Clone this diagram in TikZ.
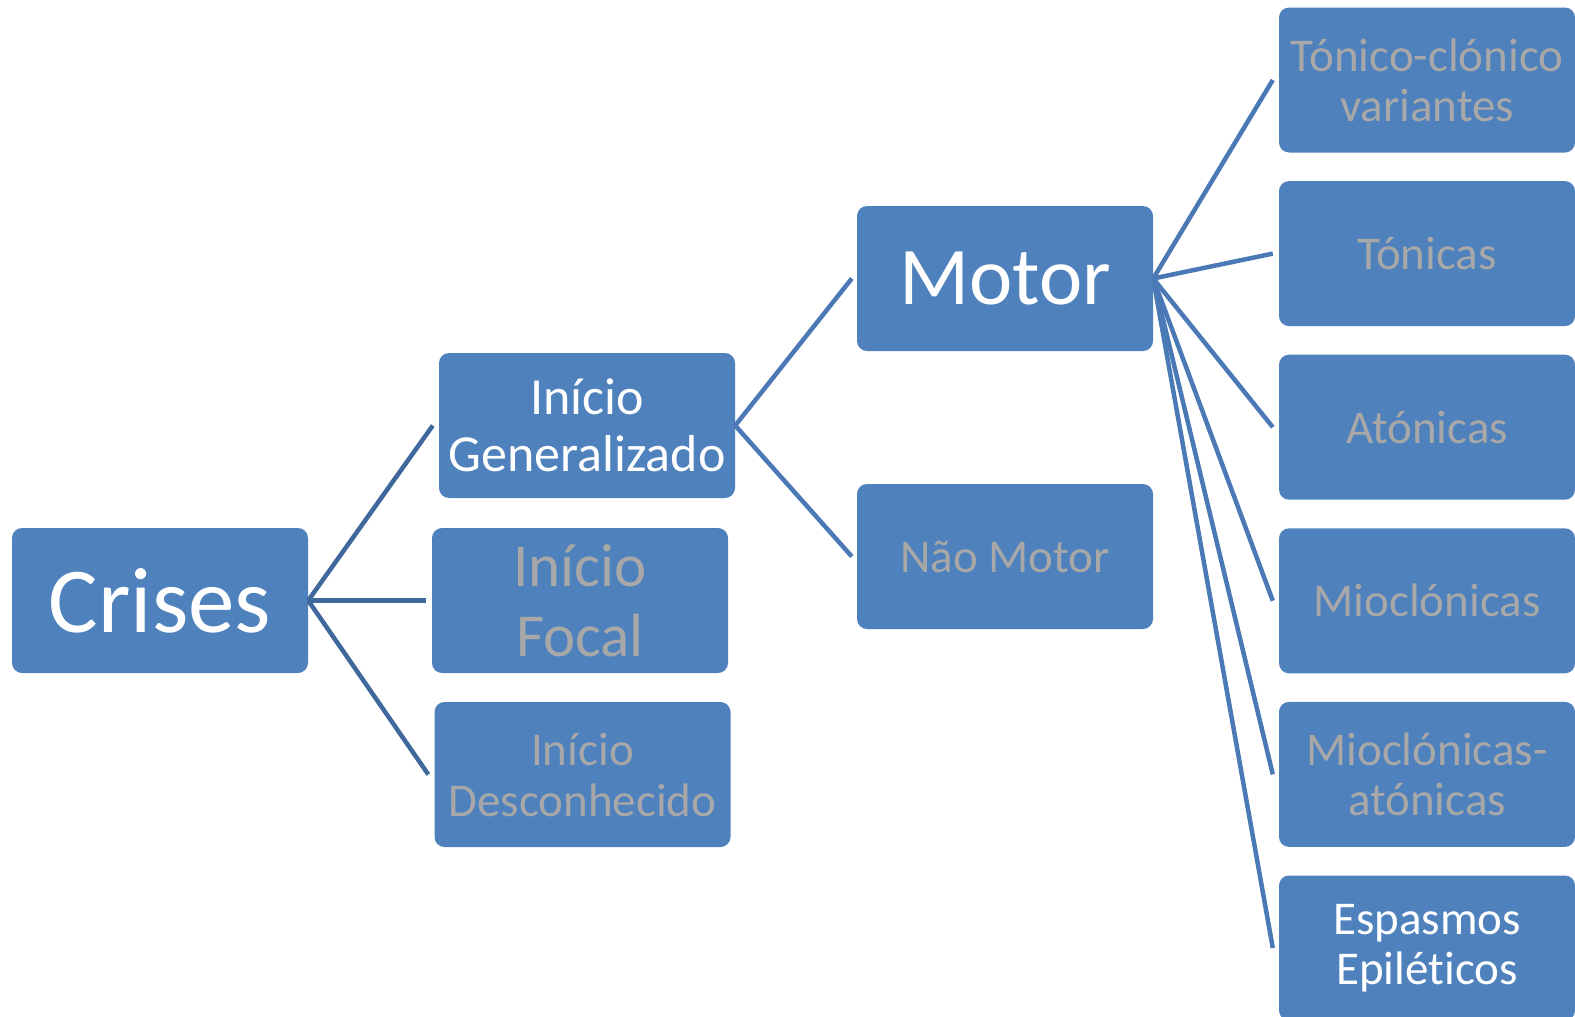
\documentclass[tikz,border=0pt]{standalone}
\usepackage{fontspec}
\setmainfont{Carlito}[Ligatures=NoCommon]

\definecolor{boxblue}{HTML}{4F81BD}
\definecolor{linkblue}{HTML}{4A79B5}
\definecolor{linkdark}{HTML}{3F689C}
\definecolor{softgrey}{HTML}{A8A8A8}

\tikzset{
    tbox/.style={rectangle, rounded corners=10pt, fill=boxblue, minimum width=296pt,
        minimum height=145pt, inner sep=2pt, align=center},
    leafbox/.style={tbox, text=softgrey, font=\fontsize{47}{50}\selectfont},
    link/.style={line width=4.5pt, draw=linkblue},
}

\begin{document}
\begin{tikzpicture}[x=1pt, y=-1pt]
        \useasboundingbox (0,0) rectangle (1575,1017);

        % first level
        \node[tbox, text=white, font=\fontsize{93}{100}\selectfont] (crises) at (160,600.5) {Crises};

        % second level
        \node[tbox, text=white, font=\fontsize{52}{57}\selectfont] (gen) at (587,425.5) {Início\\Generalizado};
        \node[tbox, text=softgrey, font=\fontsize{61}{70}\selectfont] (focal) at (580,600.5) {Início\\Focal};
        \node[tbox, text=softgrey, font=\fontsize{47}{51}\selectfont] (desc) at (582.5,774.5) {Início\\Desconhecido};

        % third level
        \node[tbox, text=white, font=\fontsize{82}{90}\selectfont] (motor) at (1005,278.5) {Motor};
        \node[leafbox] (naomotor) at (1005,556.5) {Não Motor};

        % leaves of motor
        \foreach \txt [count=\i] in {{Tónico-clónico\\variantes}, Tónicas, Atónicas, Mioclónicas, {Mioclónicas-\\atónicas}}
        {
            \node[leafbox] (leaf\i) at (1427, {80+173.6*(\i-1)}) {\txt};
        }
        \node[leafbox, text=white] (leaf6) at (1427,948) {Espasmos\\Epiléticos};

        % connectors
        \foreach \n in {gen, focal, desc}
            \draw[link, draw=linkdark] (crises.east) -- ([xshift=-6pt]\n.west);
        \foreach \n in {motor, naomotor}
            \draw[link] (gen.east) -- ([xshift=-5pt]\n.west);
        \foreach \i in {1,...,6}
            \draw[link] (motor.east) -- ([xshift=-6pt]leaf\i.west);
    \end{tikzpicture}
\end{document}
